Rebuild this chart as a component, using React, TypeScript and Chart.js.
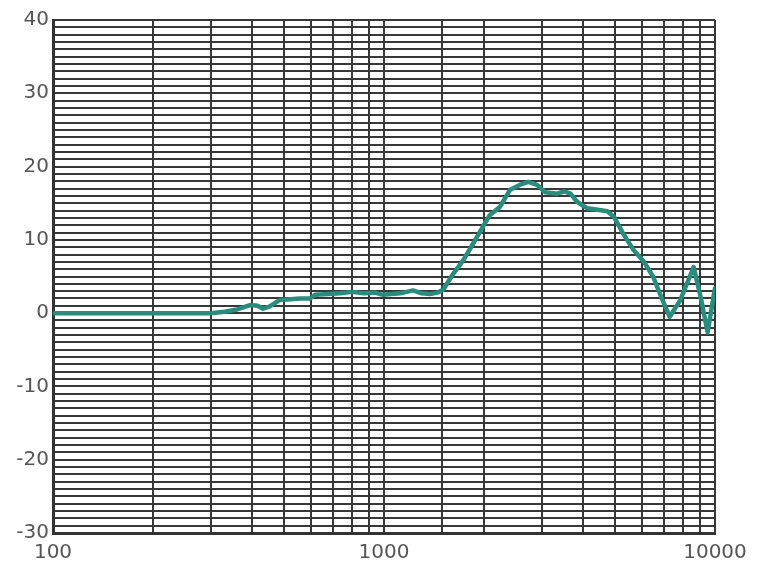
import React, { useEffect, useRef } from "react";
import { Chart, registerables } from "chart.js";

Chart.register(...registerables);

const frequencies = [100, 150, 200, 250, 300, 330, 360, 394, 415, 431, 450, 485, 520, 560, 598, 619, 680, 736, 800, 870, 940, 993, 1050, 1120, 1224, 1300, 1377, 1450, 1510, 1620, 1735, 1860, 1990, 2090, 2240, 2400, 2570, 2730, 2900, 3070, 3200, 3330, 3500, 3660, 3830, 4110, 4420, 4730, 4960, 5270, 5680, 6100, 6500, 6880, 7300, 7860, 8620, 9050, 9500, 10000];
const levels = [0, 0, 0, 0, 0, 0.2, 0.5, 1.1, 1.0, 0.6, 0.9, 1.8, 1.9, 2.0, 2.0, 2.5, 2.6, 2.7, 2.9, 2.7, 2.8, 2.5, 2.6, 2.7, 3.1, 2.7, 2.6, 2.8, 3.2, 5.4, 7.2, 9.5, 11.8, 13.4, 14.5, 16.8, 17.5, 17.9, 17.5, 16.5, 16.4, 16.3, 16.6, 16.3, 15.2, 14.3, 14.1, 13.9, 13.1, 10.9, 8.6, 7.0, 5.0, 2.2, -0.5, 1.8, 6.3, 2.2, -2.6, 3.4];
const xLabels = [100, 1000, 10000];
const yLabels = [-30, -20, -10, 0, 10, 20, 30, 40];

export default function App() {
  const ref = useRef<HTMLCanvasElement | null>(null);
  useEffect(() => {
    if (!ref.current) return;
    const chart = new Chart(ref.current, {
      type: "line",
      data: {
        datasets: [
          {
            data: frequencies.map((f, i) => ({ x: f, y: levels[i] })),
            borderColor: "#2a8c7c",
            borderWidth: 4.5,
            borderJoinStyle: "round",
            borderCapStyle: "round",
            pointRadius: 0,
            tension: 0,
            fill: false,
          },
        ],
      },
      options: {
        animation: false,
        responsive: false,
        maintainAspectRatio: false,
        layout: { padding: { top: 20, right: 49, left: 0, bottom: 0 } },
        plugins: { legend: { display: false }, tooltip: { enabled: false } },
        scales: {
          x: {
            type: "logarithmic",
            min: 100,
            max: 10000,
            border: { display: true, color: "#333", width: 3 },
            grid: { color: "#383838", lineWidth: 2, drawTicks: false },
            ticks: {
              autoSkip: false,
              maxRotation: 0,
              padding: 8,
              color: "#555",
              font: { family: "DejaVu Sans", size: 20 },
              callback: (v: any) => (xLabels.includes(Number(v)) ? String(v) : ""),
            },
            afterFit: (s: any) => { s.height = 33; },
          },
          y: {
            min: -30,
            max: 40,
            border: { display: true, color: "#333", width: 3 },
            grid: {
              color: "#383838",
              lineWidth: 2,
              drawTicks: false,
            },
            ticks: {
              stepSize: 1,
              maxTicksLimit: 200,
              autoSkip: false,
              padding: 4,
              color: "#555",
              font: { family: "DejaVu Sans", size: 20 },
              callback: (v: any) => (yLabels.includes(Number(v)) ? String(v) : ""),
            },
            afterFit: (s: any) => { s.width = 53; },
          },
        },
      },
    });
    return () => chart.destroy();
  }, []);
  return (
    <div style={{ position: "absolute", left: 0, top: 0, width: 764, height: 566, background: "#fff" }}>
      <canvas ref={ref} width={764} height={566} style={{ display: "block" }} />
    </div>
  );
}
